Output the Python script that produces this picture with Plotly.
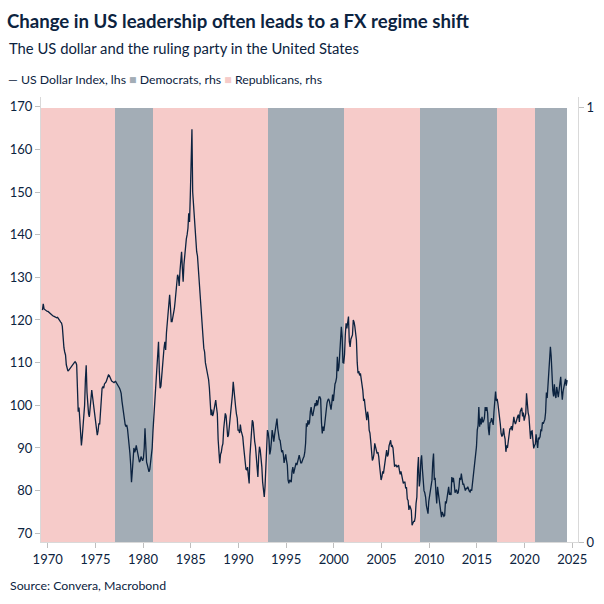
import pandas as pd
import plotly.graph_objects as go

# ---------------- data ----------------
dxy_start = "1969-06-01"  # first monthly observation
dxy_1960s = [122.3, 123.8, 122.6, 122.4, 122.2, 122.1, 122.0]
dxy_1970s = [
    122.0, 121.8, 121.6, 121.4, 121.3, 121.2, 121.0, 120.9, 120.8, 120.7, 120.6, 120.5,
    120.6, 120.4, 120.1, 119.8, 119.5, 119.3, 118.5, 115.0, 113.5, 112.5, 111.8, 109.5,
    108.3, 108.0, 108.2, 108.5, 108.7, 108.9, 109.2, 109.5, 109.8, 110.0, 110.2, 110.0,
    109.5, 101.0, 98.5, 99.5, 97.0, 93.5, 90.6, 92.5, 95.0, 95.5, 100.0, 106.0,
    109.4, 103.0, 100.0, 98.0, 97.3, 99.5, 101.5, 103.6, 102.0, 100.5, 98.5, 97.5,
    95.0, 93.5, 93.0, 94.0, 95.8, 95.5, 98.5, 102.0, 104.0, 104.3, 104.0, 105.0,
    105.2, 105.5, 106.0, 106.5, 107.1, 107.0, 106.5, 105.9, 105.7, 105.6, 105.5, 105.3,
    105.5, 105.6, 105.3, 105.0, 104.8, 104.3, 104.0, 103.5, 102.8, 101.0, 99.5, 97.5,
    96.5, 95.5, 95.0, 95.4, 94.5, 93.0, 90.5, 88.8, 86.0, 82.0, 84.5, 87.5,
    90.0, 89.0, 89.5, 90.6, 89.5, 88.5, 87.5, 86.7, 87.0, 88.0, 87.5, 87.0,
]
dxy_1980s = [
    87.6, 90.0, 94.6, 90.0, 86.7, 86.0, 85.0, 84.4, 85.0, 86.5, 88.0, 90.0,
    94.0, 97.0, 98.5, 101.0, 104.0, 107.9, 112.0, 114.9, 108.0, 104.0, 104.5, 107.0,
    110.2, 112.0, 113.5, 114.9, 113.0, 117.0, 119.0, 121.2, 122.5, 125.9, 123.0, 119.6,
    119.6, 120.5, 121.5, 122.7, 124.5, 127.0, 129.0, 130.6, 130.0, 128.0, 131.5, 134.0,
    136.0, 132.0, 129.0, 133.0, 135.3, 136.0, 139.0, 140.0, 141.5, 145.0, 143.0, 149.3,
    154.8, 164.7, 150.0, 147.0, 146.0, 143.0, 140.5, 136.0, 135.0, 132.1, 128.0, 126.0,
    123.0, 119.6, 117.5, 116.0, 113.4, 112.5, 110.0, 109.0, 107.9, 106.5, 106.0, 104.0,
    100.5, 97.7, 99.0, 97.5, 98.0, 99.5, 100.0, 101.2, 99.5, 98.0, 92.0, 88.5,
    86.4, 88.5, 89.0, 90.3, 91.0, 94.5, 97.0, 98.1, 97.5, 94.0, 92.6, 93.0,
    95.0, 96.5, 98.1, 99.0, 102.5, 105.5, 103.0, 101.5, 99.6, 98.0, 97.0, 94.2,
]
dxy_1990s = [
    94.2, 93.5, 95.5, 94.0, 93.5, 92.6, 90.5, 88.5, 87.0, 85.0, 84.8, 85.5,
    83.5, 81.7, 88.0, 91.0, 93.0, 96.5, 96.0, 93.0, 91.5, 90.3, 88.0, 84.5,
    83.2, 88.0, 90.3, 89.5, 88.0, 85.5, 82.0, 79.5, 78.5, 81.0, 86.0, 88.0,
    94.2, 93.5, 92.0, 88.5, 89.5, 91.5, 94.2, 93.0, 91.5, 93.0, 94.5, 95.5,
    96.9, 94.5, 93.0, 92.0, 91.8, 90.5, 89.0, 89.5, 88.5, 86.5, 88.0, 88.5,
    87.1, 86.0, 82.5, 81.7, 82.5, 82.0, 82.0, 84.5, 85.5, 84.0, 84.8, 85.5,
    86.5, 86.0, 86.5, 87.5, 88.3, 87.5, 86.5, 86.5, 87.5, 87.6, 88.0, 89.0,
    91.1, 95.8, 95.0, 96.5, 95.5, 96.0, 98.5, 99.6, 98.0, 97.5, 98.5, 100.0,
    100.5, 99.8, 101.2, 100.0, 101.5, 102.0, 102.0, 101.5, 96.0, 93.4, 95.0, 94.0,
    95.5, 98.0, 99.0, 100.5, 101.2, 101.5, 101.0, 99.5, 99.0, 100.5, 102.5, 101.0,
]
dxy_2000s = [
    104.3, 105.0, 105.5, 106.5, 111.4, 108.0, 109.0, 111.5, 113.7, 118.4, 116.0, 110.0,
    109.9, 112.0, 116.5, 119.2, 118.0, 120.0, 120.8, 115.0, 113.7, 115.5, 116.0, 116.5,
    120.0, 119.5, 118.5, 117.0, 115.3, 110.0, 107.5, 108.0, 107.0, 107.5, 106.0, 105.9,
    103.5, 101.0, 101.5, 99.6, 97.0, 96.5, 98.5, 97.5, 94.2, 93.5, 91.5, 88.5,
    87.1, 87.5, 88.5, 91.1, 90.5, 89.5, 88.7, 89.0, 88.0, 86.0, 83.5, 82.5,
    83.2, 84.5, 84.0, 85.5, 87.5, 88.7, 89.5, 88.0, 88.5, 90.5, 91.5, 91.8,
    90.3, 90.5, 90.0, 87.5, 85.6, 86.0, 86.0, 85.5, 85.8, 86.0, 84.8, 83.8,
    84.5, 83.5, 82.5, 81.7, 82.0, 82.0, 80.5, 80.8, 78.0, 77.7, 75.5, 76.5,
    76.0, 75.4, 71.9, 72.5, 72.8, 72.8, 73.8, 77.0, 78.5, 85.0, 87.9, 81.0,
    82.5, 87.0, 88.3, 85.0, 80.5, 80.0, 79.5, 78.5, 76.5, 75.5, 74.6, 77.5,
]
dxy_2010s = [
    79.0, 80.5, 81.5, 82.4, 86.5, 88.7, 82.5, 83.0, 79.5, 77.0, 80.9, 79.5,
    78.5, 77.0, 76.0, 73.8, 75.0, 74.5, 74.0, 74.2, 77.5, 77.0, 78.5, 79.3,
    80.9, 79.0, 79.5, 79.0, 83.2, 82.0, 83.0, 81.5, 79.5, 80.0, 80.2, 79.3,
    79.5, 80.9, 83.0, 82.5, 84.0, 82.5, 81.5, 81.5, 80.5, 80.0, 80.5, 80.5,
    80.9, 80.0, 79.9, 79.7, 80.3, 80.0, 81.7, 82.7, 85.8, 86.9, 88.7, 90.3,
    94.2, 95.3, 99.6, 95.0, 96.9, 95.5, 97.3, 96.0, 96.3, 97.0, 99.6, 98.7,
    99.6, 98.2, 94.6, 93.0, 95.9, 96.1, 97.0, 95.5, 95.4, 98.5, 101.0, 103.2,
    101.0, 101.5, 100.4, 99.1, 97.0, 95.6, 93.4, 92.7, 93.1, 94.6, 93.0, 92.1,
    89.1, 90.6, 90.0, 91.8, 94.0, 94.5, 94.5, 95.1, 94.1, 96.9, 97.3, 96.2,
    95.6, 96.2, 97.3, 97.5, 97.8, 96.1, 98.5, 98.9, 99.4, 97.4, 98.3, 96.4,
]
dxy_2020s = [
    97.4, 98.1, 102.8, 99.0, 98.3, 97.4, 93.3, 92.1, 93.9, 94.0, 91.9, 89.9,
    90.6, 90.9, 93.2, 91.3, 90.0, 92.4, 92.2, 92.6, 94.2, 94.1, 96.0, 95.7,
    96.5, 96.7, 98.3, 103.0, 101.7, 104.7, 105.9, 108.7, 113.7, 111.5, 105.9, 103.5,
    102.1, 104.9, 102.5, 101.7, 104.3, 102.9, 101.9, 103.6, 106.2, 106.7, 103.5, 101.3,
    103.3, 104.2, 104.5, 106.2, 104.6, 105.9,
]

term_start = ["1969-01-20", "1977-01-20", "1981-01-20", "1993-01-20",
              "2001-01-20", "2009-01-20", "2017-01-20", "2021-01-20"]
term_end = ["1977-01-20", "1981-01-20", "1993-01-20", "2001-01-20",
            "2009-01-20", "2017-01-20", "2021-01-20", "2024-06-25"]
term_party = ["Republicans", "Democrats", "Republicans", "Democrats",
              "Republicans", "Democrats", "Republicans", "Democrats"]

title_text = "Change in US leadership often leads to a FX regime shift"
subtitle_text = "The US dollar and the ruling party in the United States"
source_text = "Source: Convera, Macrobond"
line_name = "US Dollar Index, lhs"
dem_name = "Democrats, rhs"
rep_name = "Republicans, rhs"
left_ticks = [70, 80, 90, 100, 110, 120, 130, 140, 150, 160, 170]
right_ticks = [0, 1]
year_ticks = [1970, 1975, 1980, 1985, 1990, 1995, 2000, 2005, 2010, 2015, 2020, 2025]

# ---------------- styles ----------------
NAVY = "#0C2340"
DEM_C = "#A3ADB6"
REP_C = "#F6CBC9"
FONT = "Lato, Noto Sans, sans-serif"

dxy_values = dxy_1960s + dxy_1970s + dxy_1980s + dxy_1990s + dxy_2000s + dxy_2010s + dxy_2020s
dxy_dates = pd.date_range(dxy_start, periods=len(dxy_values), freq="MS") + pd.Timedelta(days=14)

fig = go.Figure()

fig.add_trace(go.Scatter(
    x=dxy_dates, y=dxy_values, mode="lines", name=line_name,
    line=dict(color=NAVY, width=1.3), yaxis="y2", showlegend=False,
))

for party, color, nm in [("Democrats", DEM_C, dem_name), ("Republicans", REP_C, rep_name)]:
    xs, ws = [], []
    for s, e, p in zip(term_start, term_end, term_party):
        if p != party:
            continue
        ts, te = pd.Timestamp(s), pd.Timestamp(e)
        xs.append(ts + (te - ts) / 2)
        ws.append((te - ts).total_seconds() * 1000)
    fig.add_trace(go.Bar(
        x=xs, y=[1] * len(xs), width=ws, name=nm, yaxis="y",
        marker=dict(color=color, line=dict(width=0)), showlegend=False,
    ))

PL, PR, PT, PB = 41, 578, 97, 542
PW, PH = PR - PL, PB - PT

def px_x(x):
    return (x - PL) / PW

def px_y(y):
    return (PB - y) / PH

axis_common = dict(showgrid=False, showline=True, linecolor="#D9D9D9", linewidth=1,
                   ticks="outside", ticklen=5, tickcolor="#BFBFBF",
                   tickfont=dict(size=13, color=NAVY, family=FONT), zeroline=False)

fig.update_layout(
    width=604, height=604,
    margin=dict(l=PL, r=604 - PR, t=PT, b=604 - PB, autoexpand=False),
    paper_bgcolor="white", plot_bgcolor="white",
    font=dict(family=FONT, color=NAVY, size=13),
    barmode="overlay", bargap=0,
    title=dict(text="<b>" + title_text + "</b>", x=7 / 604, xanchor="left",
               xref="container", y=1 - 21 / 604, yanchor="middle", yref="container",
               font=dict(size=18.6, color=NAVY, family=FONT)),
    xaxis=dict(type="date", range=["1969-04-20", "2025-08-07"],
               tickvals=[pd.Timestamp(f"{y}-01-01") for y in year_ticks],
               ticktext=[str(y) for y in year_ticks], **axis_common),
    yaxis=dict(side="right", range=[0, 1.0246], tickvals=right_ticks, **axis_common),
    yaxis2=dict(side="left", overlaying="y", range=[67.96, 172.27], tickvals=left_ticks,
                **axis_common),
    showlegend=False,
)

legend_html = (
    f"<span style='color:{NAVY}'>—</span> {line_name} "
    f"<span style='color:{DEM_C}'>■</span> {dem_name} "
    f"<span style='color:{REP_C}'>■</span> {rep_name}"
)

fig.add_annotation(text=subtitle_text, xref="paper", yref="paper",
                   x=px_x(7), y=px_y(48), xanchor="left", yanchor="middle",
                   showarrow=False, font=dict(size=14.8, color=NAVY, family=FONT))
fig.add_annotation(text=legend_html, xref="paper", yref="paper",
                   x=px_x(6), y=px_y(79), xanchor="left", yanchor="middle",
                   showarrow=False, font=dict(size=12.3, color=NAVY, family=FONT))
fig.add_annotation(text=source_text, xref="paper", yref="paper",
                   x=px_x(8), y=px_y(585), xanchor="left", yanchor="middle",
                   showarrow=False, font=dict(size=12.3, color=NAVY, family=FONT))

fig.write_html("out.html", config={"displayModeBar": False},
               post_script="document.body.style.margin='0';")
